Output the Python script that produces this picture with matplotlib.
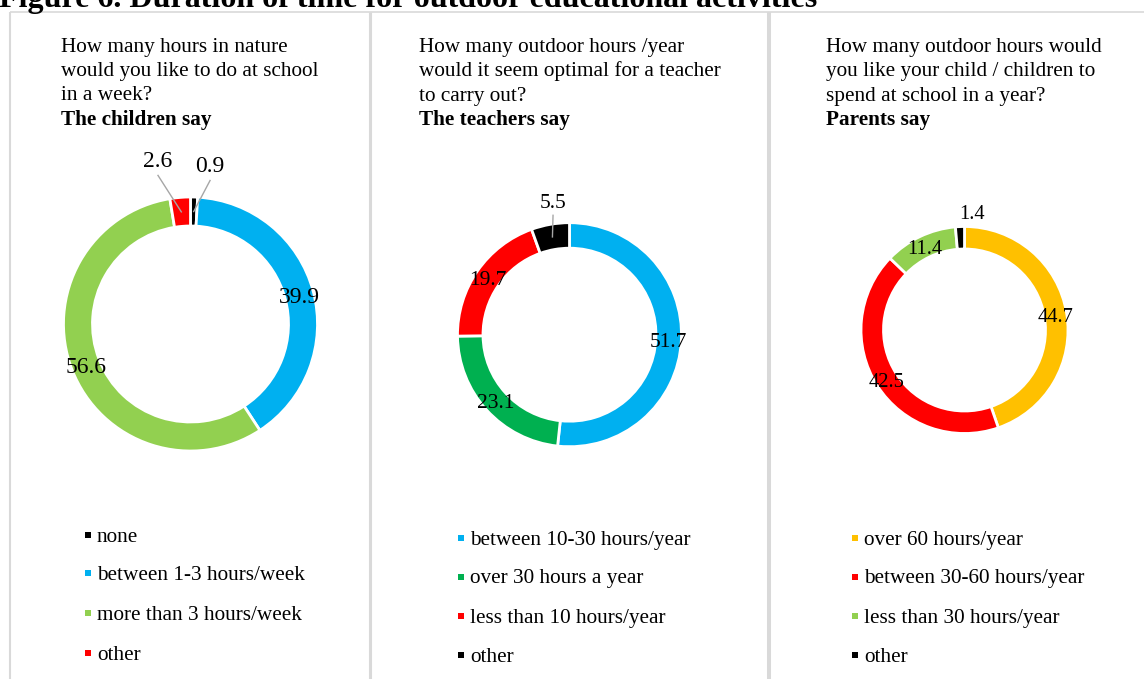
import matplotlib
matplotlib.use("Agg")
import matplotlib.pyplot as plt
import numpy as np

W, H = 1144, 679

# ---- data -------------------------------------------------------------
children_labels = ["none", "between 1-3 hours/week", "more than 3 hours/week", "other"]
children_values = [0.9, 39.9, 56.6, 2.6]
children_colors = ["#000000", "#00B0F0", "#92D050", "#FF0000"]

teachers_labels = ["between 10-30 hours/year", "over 30 hours a year",
                   "less than 10 hours/year", "other"]
teachers_values = [51.7, 23.1, 19.7, 5.5]
teachers_colors = ["#00B0F0", "#00B050", "#FF0000", "#000000"]

parents_labels = ["over 60 hours/year", "between 30-60 hours/year",
                  "less than 30 hours/year", "other"]
parents_values = [44.7, 42.5, 11.4, 1.4]
parents_colors = ["#FFC000", "#FF0000", "#92D050", "#000000"]

questions = [
    ["How many hours in nature", "would you like to do at school", "in a week?"],
    ["How many outdoor hours /year", "would it seem optimal for a teacher", "to carry out?"],
    ["How many outdoor hours would", "you like your child / children to",
     "spend at school in a year?"],
]
groups = ["The children say", "The teachers say", "Parents say"]
title = "Figure 6. Duration of time for outdoor educational activities"

plt.rcParams["font.family"] = ["Liberation Serif", "DejaVu Serif"]

# ---- layout (pixels) --------------------------------------------------
panels = [
    dict(labels=children_labels, values=children_values, colors=children_colors,
         cx=190.5, cy=324, R=127, ring=29, tx=61, mx=87.5,
         rows=[535, 573, 613, 653], fs=17,
         outside={3: (-0.256, 1.30, True), 0: (0.154, 1.26, True)}),
    dict(labels=teachers_labels, values=teachers_values, colors=teachers_colors,
         cx=569.5, cy=334.7, R=112, ring=25.5, tx=419, mx=461,
         rows=[538, 577, 616, 655], fs=15.5,
         outside={3: (-0.147, 1.196, True)}),
    dict(labels=parents_labels, values=parents_values, colors=parents_colors,
         cx=964.5, cy=330, R=103.5, ring=22.5, tx=826, mx=855,
         rows=[538, 577, 616, 655], fs=14.8,
         outside={3: (0.077, 1.143, False)}),
]

fig = plt.figure(figsize=(W / 100, H / 100), dpi=100)

# overlay in pixel coordinates for frame, headers and legends
bg = fig.add_axes([0, 0, 1, 1])
bg.set_xlim(0, W)
bg.set_ylim(H, 0)
bg.axis("off")

grey = "#D9D9D9"
bg.plot([10, W], [12, 12], color=grey, lw=1.2, solid_capstyle="butt")
for x, lw in [(10, 1.5), (370, 2.2), (769, 2.9)]:
    bg.plot([x, x], [12, H], color=grey, lw=lw, solid_capstyle="butt")

# the reference crops the figure caption at the top edge
bg.text(-1, 7, title, fontsize=23, fontweight="bold", va="baseline", ha="left")

for i, p in enumerate(panels):
    baselines = [52, 76.3, 100.5]
    for line, y in zip(questions[i], baselines):
        bg.text(p["tx"], y, line, fontsize=15.3, va="baseline", ha="left")
    bg.text(p["tx"], 124.5, groups[i], fontsize=15.3, fontweight="bold",
            va="baseline", ha="left")

    # legend
    for lab, col, y in zip(p["labels"], p["colors"], p["rows"]):
        bg.scatter([p["mx"]], [y], marker="s", s=20, color=col, linewidths=0)
        bg.text(p["mx"] + 9.5, y + 6.5, lab, fontsize=15.3, va="baseline", ha="left")

    # donut
    cx, cy, R = p["cx"], p["cy"], p["R"]
    ax = fig.add_axes([(cx - R) / W, 1 - (cy + R) / H, 2 * R / W, 2 * R / H])
    wedges, _ = ax.pie(p["values"], colors=p["colors"], startangle=90,
                       counterclock=False, radius=1.0,
                       wedgeprops=dict(width=p["ring"] / R, edgecolor="white",
                                       linewidth=2))
    for w in wedges:
        w.set_clip_on(False)
    ax.set_xlim(-1, 1)
    ax.set_ylim(-1, 1)
    ax.set_aspect("equal")
    ax.axis("off")

    rmid = 1 - p["ring"] / (2 * R)
    for k, (w, v) in enumerate(zip(wedges, p["values"])):
        ang = np.deg2rad((w.theta1 + w.theta2) / 2)
        px, py = rmid * np.cos(ang), rmid * np.sin(ang)
        if k in p["outside"]:
            lx, ly, leader = p["outside"][k]
            if leader:
                ax.plot([lx, px], [ly - 0.13, py], color="#A6A6A6", lw=1.0,
                        clip_on=False, zorder=5)
            ax.text(lx, ly, f"{v:.1f}", fontsize=p["fs"], ha="center",
                    va="center_baseline", clip_on=False)
        else:
            ax.text(px, py, f"{v:.1f}", fontsize=p["fs"], ha="center",
                    va="center_baseline", clip_on=False, zorder=6)

fig.savefig("out.png", dpi=100)
